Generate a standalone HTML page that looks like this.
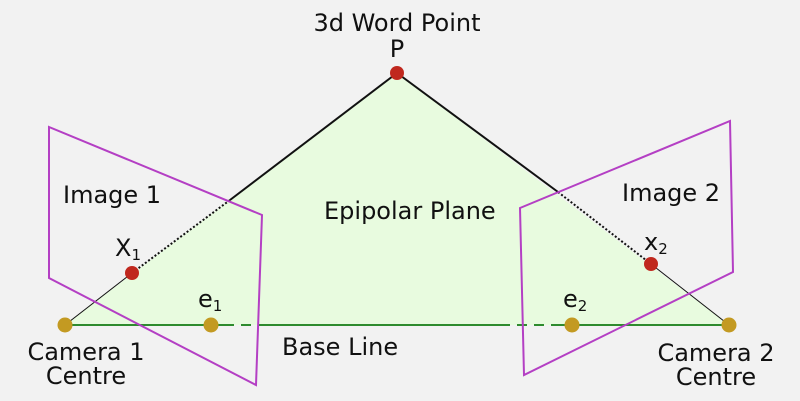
<!DOCTYPE html>
<html><head><style>body{margin:0;background:#f2f2f2}svg{display:block}text{font-family:"DejaVu Sans","Liberation Sans",sans-serif;fill:#111}</style></head><body>
<svg width="800" height="401" viewBox="0 0 800 401">
<rect width="800" height="401" fill="#f2f2f2"/>
<polygon points="397,73 65,325 729,325" fill="#e8fbdf"/>
<line x1="397" y1="73" x2="230" y2="200" stroke="#111" stroke-width="2"/>
<line x1="230" y1="200" x2="132" y2="273" stroke="#111" stroke-width="2" stroke-dasharray="2,2"/>
<line x1="132" y1="273" x2="65" y2="325" stroke="#111" stroke-width="1"/>
<line x1="397" y1="73" x2="558" y2="192" stroke="#111" stroke-width="2"/>
<line x1="558" y1="192" x2="651" y2="264" stroke="#111" stroke-width="2" stroke-dasharray="2,2"/>
<line x1="651" y1="264" x2="729" y2="325" stroke="#111" stroke-width="1"/>
<line x1="65" y1="325" x2="224" y2="325" stroke="#2e8b2e" stroke-width="2"/>
<line x1="224" y1="325" x2="258" y2="325" stroke="#2e8b2e" stroke-width="2" stroke-dasharray="10,7"/>
<line x1="258" y1="325" x2="500" y2="325" stroke="#2e8b2e" stroke-width="2"/>
<line x1="500" y1="325" x2="560" y2="325" stroke="#2e8b2e" stroke-width="2" stroke-dasharray="10,7"/>
<line x1="560" y1="325" x2="729" y2="325" stroke="#2e8b2e" stroke-width="2"/>
<polygon points="49,127 262,215 256,385 49,278" fill="none" stroke="#b43fc4" stroke-width="2"/>
<polygon points="730,121 733,272 524,375 520,208" fill="none" stroke="#b43fc4" stroke-width="2"/>
<circle cx="397" cy="73" r="7" fill="#c0281e"/>
<circle cx="132" cy="273" r="7" fill="#c0281e"/>
<circle cx="651" cy="264" r="7" fill="#c0281e"/>
<circle cx="65" cy="325" r="7.5" fill="#c39a22"/>
<circle cx="211" cy="325" r="7.5" fill="#c39a22"/>
<circle cx="572" cy="325" r="7.5" fill="#c39a22"/>
<circle cx="729" cy="325" r="7.5" fill="#c39a22"/>
<g font-size="24">
<text x="397" y="31" text-anchor="middle">3d Word Point</text>
<text x="397" y="57" text-anchor="middle">P</text>
<text x="63" y="203">Image 1</text>
<text x="622" y="201">Image 2</text>
<text x="324" y="219">Epipolar Plane</text>
<text x="282" y="355">Base Line</text>
<text x="86" y="360" text-anchor="middle">Camera 1</text>
<text x="86" y="384" text-anchor="middle">Centre</text>
<text x="716" y="361" text-anchor="middle">Camera 2</text>
<text x="716" y="385" text-anchor="middle">Centre</text>
<text x="115" y="256">X<tspan font-size="15" dy="4">1</tspan></text>
<text x="644" y="250">x<tspan font-size="15" dy="4">2</tspan></text>
<text x="198" y="307">e<tspan font-size="15" dy="4">1</tspan></text>
<text x="563" y="307">e<tspan font-size="15" dy="4">2</tspan></text>
</g>
</svg>
</body></html>
